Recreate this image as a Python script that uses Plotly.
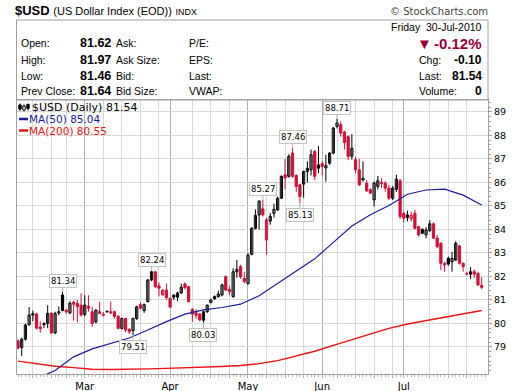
import pandas as pd
import plotly.graph_objects as go

# ---------------- data ----------------
HOLIDAYS = ["2010-02-15", "2010-04-02", "2010-05-31"]
dates = [d.strftime("%Y-%m-%d") for d in pd.bdate_range("2010-02-02", "2010-07-30")
         if d.strftime("%Y-%m-%d") not in HOLIDAYS]

open_ = [79.26, 78.97, 79.33, 79.95, 80.36, 80.40, 79.85, 79.95, 80.00, 80.43,
         79.60, 80.45, 81.21, 80.57, 80.45, 80.90, 80.85, 80.78, 80.38, 80.74,
         80.50, 80.07, 80.50, 80.35, 80.50, 80.50, 80.50, 80.31, 79.79, 80.21,
         79.75, 79.70, 80.21, 80.80, 80.55, 80.93, 81.85, 82.20, 81.60, 81.21,
         81.42, 81.07, 81.20, 81.12, 81.30, 81.68, 81.57, 80.60, 80.45, 80.40,
         80.14, 80.50, 80.90, 81.14, 81.14, 81.21, 81.99, 81.45, 81.14, 82.20,
         82.42, 81.92, 81.70, 82.94, 84.05, 84.62, 84.88, 83.55, 84.36, 84.69,
         84.83, 85.33, 86.33, 86.26, 87.25, 86.30, 85.90, 85.93, 86.47, 86.54,
         87.32, 86.61, 86.80, 86.62, 86.82, 87.25, 88.39, 88.46, 88.15, 87.95,
         87.12, 86.97, 86.54, 86.11, 85.97, 85.69, 85.26, 85.83, 86.00, 85.97,
         85.76, 85.33, 85.71, 86.07, 84.68, 84.50, 84.45, 84.69, 84.12, 84.00,
         83.77, 83.95, 84.24, 83.63, 83.41, 82.55, 82.77, 82.63, 82.70, 83.30,
         82.56, 82.12, 82.10, 82.20, 82.13, 81.62]
high = [79.32, 79.40, 80.00, 80.70, 80.55, 80.45, 80.10, 80.05, 80.78, 80.48,
        80.50, 80.72, 81.34, 80.62, 80.95, 80.97, 81.00, 81.28, 81.20, 81.20,
        80.70, 80.60, 80.93, 80.48, 80.55, 80.93, 80.55, 80.35, 80.25, 80.25,
        79.80, 80.25, 80.75, 80.90, 80.85, 81.90, 82.24, 82.22, 81.75, 81.45,
        81.70, 81.10, 81.25, 81.35, 81.70, 81.75, 81.60, 80.65, 80.60, 80.45,
        80.55, 80.80, 81.05, 81.20, 81.40, 81.70, 82.05, 81.60, 82.35, 82.70,
        82.50, 82.20, 83.00, 84.10, 84.85, 85.25, 85.27, 84.50, 84.70, 85.10,
        85.40, 86.30, 87.00, 87.20, 87.46, 86.35, 85.95, 86.50, 86.90, 87.40,
        87.39, 87.55, 86.90, 87.18, 87.30, 88.35, 88.71, 88.60, 88.20, 88.00,
        88.06, 87.10, 87.00, 86.90, 86.10, 85.75, 86.05, 86.28, 86.18, 86.05,
        85.90, 85.85, 86.33, 86.15, 84.75, 84.80, 84.76, 84.83, 84.15, 84.05,
        84.10, 84.40, 84.30, 83.77, 83.45, 82.63, 82.85, 83.05, 83.50, 83.35,
        82.60, 82.20, 82.40, 82.30, 82.20, 81.97]
low = [78.90, 78.62, 79.28, 79.90, 80.10, 79.75, 79.60, 79.80, 79.80, 79.55,
       79.55, 80.35, 80.52, 80.40, 80.40, 80.12, 80.05, 80.30, 80.30, 80.50,
       79.85, 80.00, 80.40, 80.30, 80.45, 80.40, 80.20, 79.75, 79.75, 79.62,
       79.55, 79.51, 80.15, 80.60, 80.45, 80.90, 81.80, 81.50, 81.15, 81.20,
       81.00, 80.65, 81.00, 80.95, 81.25, 81.45, 80.90, 80.07, 80.20, 80.10,
       80.03, 80.45, 80.85, 81.00, 81.10, 81.15, 81.40, 81.20, 81.10, 81.95,
       81.90, 81.70, 81.65, 82.90, 84.00, 84.00, 84.55, 82.92, 84.20, 84.50,
       84.80, 85.30, 85.70, 86.20, 86.20, 85.60, 85.13, 85.35, 86.00, 86.30,
       86.10, 86.40, 86.30, 86.04, 86.75, 87.20, 88.30, 87.95, 87.40, 86.95,
       86.97, 86.40, 85.85, 86.04, 85.60, 85.50, 84.98, 85.70, 85.76, 85.60,
       85.25, 85.25, 85.60, 84.45, 84.30, 84.35, 84.34, 84.00, 83.70, 83.80,
       83.62, 83.90, 83.60, 83.20, 82.27, 82.20, 82.45, 82.20, 82.65, 82.50,
       82.20, 82.05, 81.90, 81.95, 81.60, 81.46]
close = [78.95, 79.33, 79.93, 80.36, 80.42, 79.80, 79.78, 80.00, 80.43, 79.60,
         80.43, 80.50, 80.55, 80.50, 80.86, 80.82, 80.72, 80.36, 80.78, 80.65,
         80.00, 80.57, 80.43, 80.40, 80.52, 80.45, 80.30, 79.79, 80.21, 79.72,
         79.65, 80.21, 80.71, 80.65, 80.80, 81.85, 82.20, 81.57, 81.50, 81.42,
         81.10, 80.70, 81.12, 81.30, 81.54, 81.52, 80.93, 80.40, 80.35, 80.15,
         80.50, 80.78, 81.00, 81.05, 81.25, 81.64, 81.42, 81.35, 82.20, 82.30,
         81.99, 81.78, 82.90, 84.05, 84.60, 85.20, 84.62, 84.41, 84.55, 84.86,
         85.33, 86.26, 86.19, 87.11, 86.26, 85.83, 85.40, 86.47, 86.60, 87.18,
         86.26, 86.75, 86.68, 86.72, 87.25, 88.32, 88.53, 88.10, 87.70, 87.10,
         87.45, 86.54, 85.90, 86.18, 85.64, 85.55, 85.97, 86.07, 85.95, 85.76,
         85.33, 85.76, 86.14, 84.55, 84.48, 84.62, 84.60, 84.05, 83.77, 83.84,
         83.98, 84.24, 83.63, 83.27, 82.56, 82.49, 82.53, 82.77, 83.41, 82.56,
         82.42, 82.10, 82.20, 82.10, 81.64, 81.54]
prev_close_start = 79.30
volume_last = 0

ma_dates = dates[::5]
ma50 = [77.35, 77.65, 78.00, 78.58, 78.92, 79.15, 79.38, 79.72, 80.08, 80.40,
        80.58, 80.68, 80.82, 81.18, 81.70, 82.25, 82.75, 83.45, 84.15, 84.63,
        85.02, 85.50, 85.68, 85.72, 85.46, 85.04]
ma200 = [78.40, 78.30, 78.18, 78.12, 78.05, 78.04, 78.04, 78.07, 78.09, 78.11,
         78.13, 78.17, 78.21, 78.29, 78.42, 78.61, 78.82, 79.07, 79.31, 79.56,
         79.79, 79.98, 80.12, 80.27, 80.38, 80.55]

y_ticks = [79, 80, 81, 82, 83, 84, 85, 86, 87, 88, 89]

callouts = [("2010-02-19", "high"), ("2010-03-18", "low"), ("2010-03-25", "high"),
            ("2010-04-15", "low"), ("2010-05-07", "high"), ("2010-05-19", "high"),
            ("2010-05-21", "low"), ("2010-06-07", "high")]

# ---------------- styling ----------------
W, H = 520, 391
L, R, T, B = 17, 32, 100, 17
PW, PH = W - L - R, H - T - B
UI = "Liberation Sans, Arial, sans-serif"
VF = "DejaVu Sans, Verdana, sans-serif"
RED = "#d0103a"
MAROON = "#990033"
NAVY = "#1c1c99"
MA_RED = "#ee1111"
GRID = "#d9d9d9"
MGRID = "#b0b0b0"
FRAME = "#a0a0a0"


def px(xp):
    return (xp - L) / PW


def py(yp):
    return (H - B - yp) / PH


n = len(dates)
pos = {d: i for i, d in enumerate(dates)}
xs = list(range(n))
prev = [prev_close_start] + close[:-1]
edge = ["black" if close[i] >= prev[i] else RED for i in xs]
fill = ["white" if close[i] >= open_[i] else edge[i] for i in xs]

fig = go.Figure()
# wicks (high-low), one trace per colour
for col in ("black", RED):
    wx, wy = [], []
    for i in xs:
        if edge[i] == col:
            wx += [i, i, None]
            wy += [low[i], high[i], None]
    fig.add_trace(go.Scatter(x=wx, y=wy, mode="lines", line=dict(color=col, width=1),
                             showlegend=False, hoverinfo="skip"))
# candle bodies (open-close)
fig.add_trace(go.Bar(
    x=xs, base=[min(o, c) for o, c in zip(open_, close)],
    y=[max(abs(c - o), 0.015) for o, c in zip(open_, close)],
    width=0.6, marker=dict(color=fill, line=dict(color=edge, width=1)),
    showlegend=False, hoverinfo="skip"))

ma_x = [pos[d] for d in ma_dates]
fig.add_trace(go.Scatter(x=ma_x, y=ma200, mode="lines", line=dict(color=MA_RED, width=1.4),
                         showlegend=False, hoverinfo="skip"))
fig.add_trace(go.Scatter(x=ma_x, y=ma50, mode="lines", line=dict(color=NAVY, width=1.2),
                         showlegend=False, hoverinfo="skip"))
# carrier for the daily tick axis
fig.add_trace(go.Scatter(x=[0], y=[close[0]], xaxis="x2", mode="markers",
                         marker=dict(opacity=0), showlegend=False, hoverinfo="skip"))

# month / week grid positions
ts = pd.to_datetime(dates)
month_idx = [i for i in range(1, n) if ts[i].month != ts[i - 1].month]
month_txt = [ts[i].strftime("%b") for i in month_idx]
week_idx = []
for i in range(1, n):
    if ts[i].isocalendar()[1] != ts[i - 1].isocalendar()[1]:
        last_m = max([m for m in month_idx if m <= i], default=-99)
        if i - last_m > 3:
            week_idx.append(i)

xr = [-0.27, 126.7]
yr = [77.85, 89.51]

ann = []


def label(xp, yp, text, size=11, color="black", family=UI, xanchor="left"):
    ann.append(dict(xref="paper", yref="paper", x=px(xp), y=py(yp), text=text, showarrow=False,
                    xanchor=xanchor, yanchor="middle", borderpad=0,
                    font=dict(family=family, size=size, color=color)))


# title + copyright
label(14, 10, "<b>$USD</b> <span style='font-size:11px'>(US Dollar Index (EOD))</span> "
              "<span style='font-size:9px'>INDX</span>", size=13)
label(489, 11, "\u00a9 StockCharts.com", size=10, color="#444444", family=VF, xanchor="right")

# quote panel
rows = [("Open:", open_[-1], "Ask:", "P/E:"), ("High:", high[-1], "Ask Size:", "EPS:"),
        ("Low:", low[-1], "Bid:", "Last:"), ("Prev Close:", close[-2], "Bid Size:", "VWAP:")]
row_y = [43.5, 59.5, 75.5, 91]
for (a, v, b, c), yy in zip(rows, row_y):
    label(20, yy, a, size=10.5)
    label(112, yy, f"<b>{v:.2f}</b>", size=12.5, xanchor="right")
    label(115, yy, b, size=10.5)
    label(188, yy, c, size=10.5)

last_day = ts[-1]
chg = close[-1] - close[-2]
pct = chg / close[-2] * 100
label(483, 27, last_day.strftime("%A") + "\u00a0 " + last_day.strftime("%d-%b-%Y"), size=10.5,
      xanchor="right")
label(424.5, 43.5, "\u25bc", size=15, color=MAROON, xanchor="center")
label(483, 43.5, f"<b>{pct:.2f}%</b>", size=15, color=MAROON, xanchor="right")
label(418, 59.5, "Chg:", size=10.5)
label(483, 59.5, f"<b>{chg:.2f}</b>", size=12, xanchor="right")
label(418, 75.5, "Last:", size=10.5)
label(483, 75.5, f"<b>{close[-1]:.2f}</b>", size=12, xanchor="right")
label(418, 91, "Volume:", size=10.5)
label(483, 91, f"<b>{volume_last}</b>", size=12, xanchor="right")

# legend
label(31, 107.5, f"$USD (Daily) {close[-1]:.2f}", size=11, family=VF)
label(28, 119, f"MA(50) {ma50[-1]:.2f}", size=10.5, family=VF, color=NAVY)
label(28, 130.5, f"MA(200) {ma200[-1]:.2f}", size=10.5, family=VF, color=MA_RED)

# swing callouts
for d, kind in callouts:
    i = pos[d]
    v = high[i] if kind == "high" else low[i]
    ann.append(dict(x=i, y=v, xref="x", yref="y", text=f"{v:.2f}", showarrow=True,
                    arrowhead=0, arrowwidth=1, arrowcolor="#b5b5b5", ax=0,
                    ay=-11 if kind == "high" else 12, bgcolor="white", bordercolor="#c4c4c4",
                    borderwidth=1, borderpad=1, font=dict(family=VF, size=8.5, color="black")))

shapes = [
    dict(type="rect", xref="paper", yref="paper", x0=px(16.5), x1=px(488), y0=py(100), y1=py(20),
         line=dict(color=FRAME, width=1), fillcolor="rgba(0,0,0,0)", layer="above"),
    dict(type="rect", xref="paper", yref="paper", x0=px(18), x1=px(146), y0=py(134.5), y1=py(100.5),
         line=dict(width=0), fillcolor="white", layer="between"),
    dict(type="line", xref="paper", yref="paper", x0=px(19), x1=px(28), y0=py(119), y1=py(119),
         line=dict(color=NAVY, width=2.5)),
    dict(type="line", xref="paper", yref="paper", x0=px(19), x1=px(28), y0=py(130.5), y1=py(130.5),
         line=dict(color=MA_RED, width=2.5)),
]
# tiny candle glyph in the legend
for cx, top, bot, b0, b1, fl in ((20, 103.5, 111, 105, 109, "black"),
                                 (24, 104.5, 111.5, 106, 110, "white"),
                                 (28, 103.5, 110.5, 104.5, 108.5, "black")):
    shapes.append(dict(type="line", xref="paper", yref="paper", x0=px(cx), x1=px(cx),
                       y0=py(bot), y1=py(top), line=dict(color="black", width=1)))
    shapes.append(dict(type="rect", xref="paper", yref="paper", x0=px(cx - 1.2), x1=px(cx + 1.2),
                       y0=py(b1), y1=py(b0), line=dict(color="black", width=1), fillcolor=fl))

fig.update_layout(
    width=W, height=H, margin=dict(l=L, r=R, t=T, b=B, pad=0, autoexpand=False),
    paper_bgcolor="white", plot_bgcolor="white", showlegend=False,
    annotations=ann, shapes=shapes,
    xaxis=dict(range=xr, tickmode="array", tickvals=month_idx, ticktext=month_txt,
               automargin=False,
               showgrid=True, gridcolor=MGRID, gridwidth=1, zeroline=False,
               ticks="outside", ticklen=3, tickcolor=FRAME,
               showline=True, linecolor=FRAME, linewidth=1, mirror=True,
               tickfont=dict(family=VF, size=10, color="black"),
               minor=dict(tickmode="array", tickvals=week_idx, showgrid=True, gridcolor=GRID,
                          ticks="outside", ticklen=3, tickcolor=FRAME)),
    xaxis2=dict(range=xr, overlaying="x", anchor="y", side="bottom", tickmode="linear",
                automargin=False,
                tick0=0, dtick=1, ticks="outside", ticklen=2, tickcolor="#b8b8b8",
                showticklabels=False, showgrid=False, zeroline=False, showline=False),
    yaxis=dict(range=yr, side="right", tickmode="array", tickvals=y_ticks,
               automargin=False,
               showgrid=True, gridcolor=GRID, zeroline=False,
               ticks="outside", ticklen=3, tickcolor=FRAME,
               showline=True, linecolor=FRAME, linewidth=1, mirror=True,
               tickfont=dict(family=VF, size=9.5, color="black"),
               minor=dict(dtick=0.2, tick0=0, ticks="outside", ticklen=2, tickcolor=FRAME,
                          showgrid=False)),
)

fig.write_html("out.html", config={"displayModeBar": False},
               post_script="document.body.style.margin='0';document.body.style.overflow='hidden';")
